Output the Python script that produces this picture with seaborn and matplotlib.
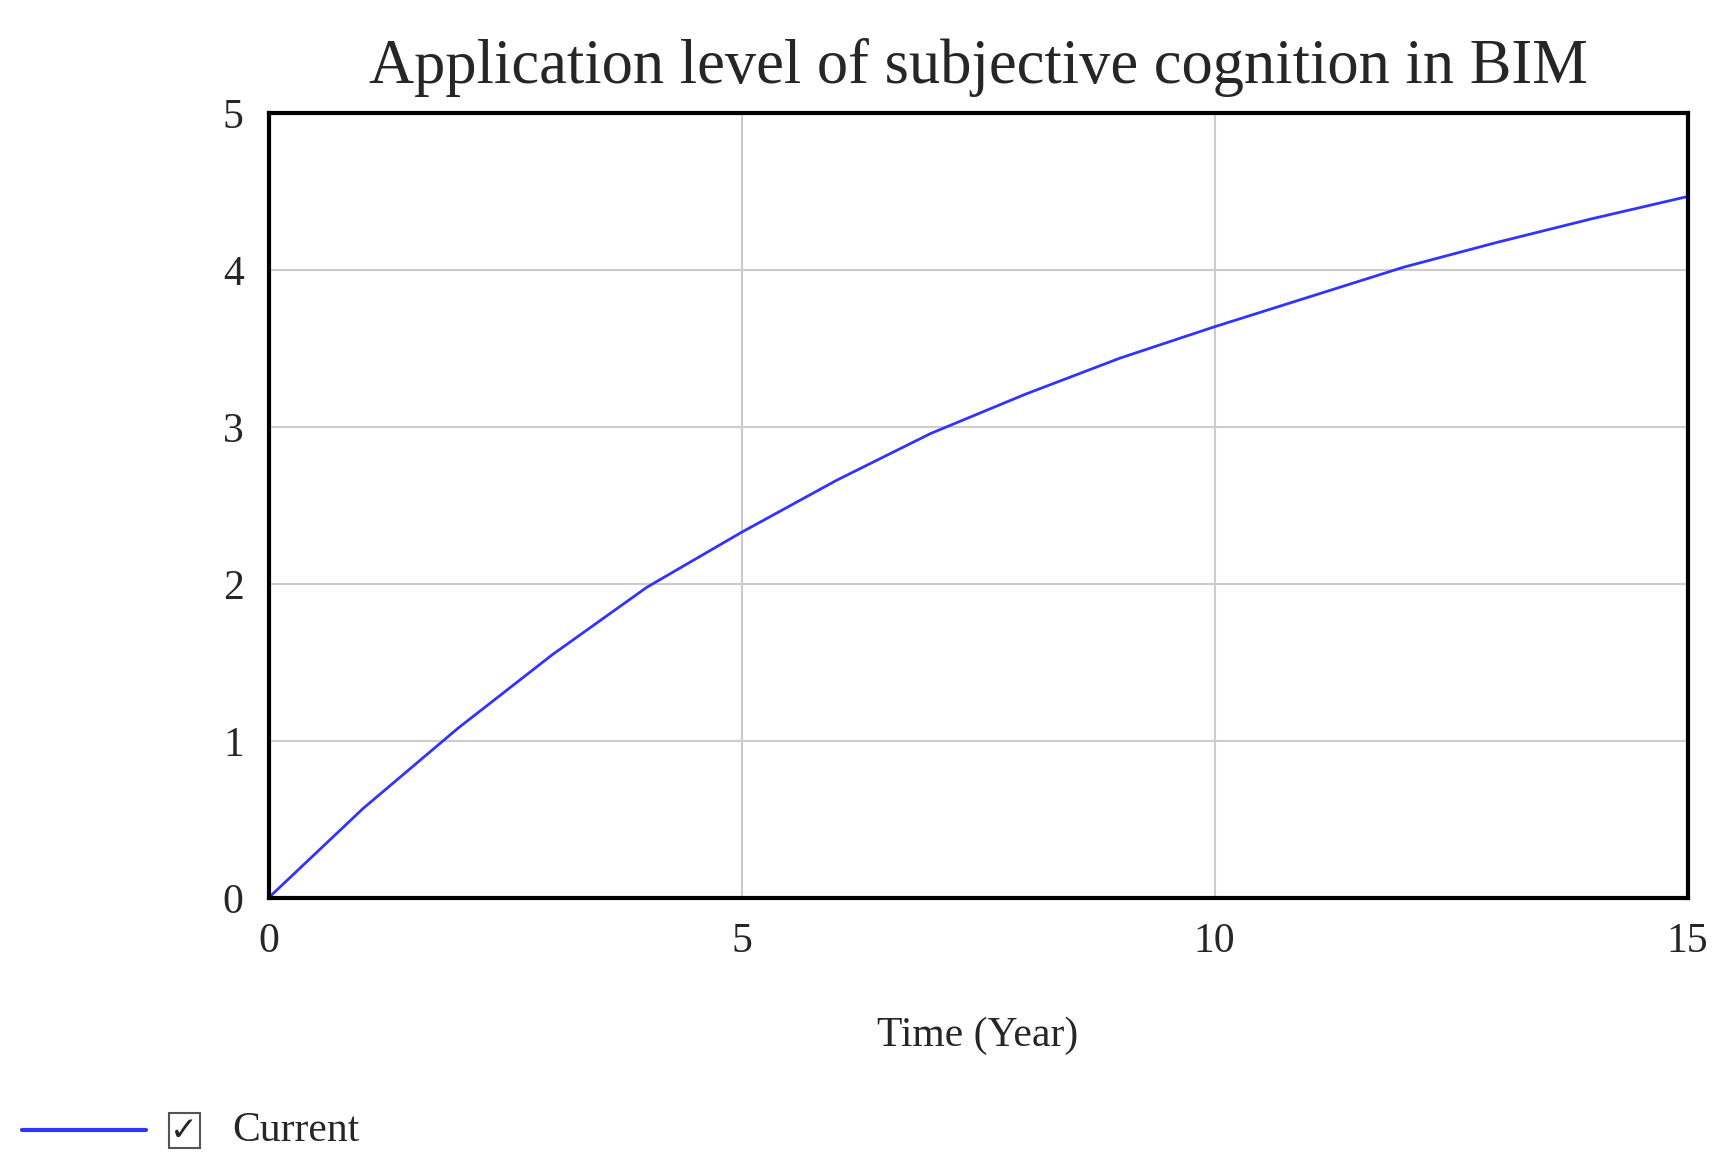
import numpy as np
import pandas as pd
import seaborn as sns
import matplotlib.pyplot as plt
from matplotlib.lines import Line2D
from matplotlib.patches import Rectangle

sns.set_theme(style="white")
plt.rcParams['font.family'] = ['Liberation Serif', 'DejaVu Serif']

# data
years = list(range(16))
level = [0, 0.57, 1.08, 1.55, 1.98, 2.33, 2.66, 2.96, 3.21, 3.44, 3.64, 3.83, 4.02, 4.18, 4.33, 4.47]
series_name = "Current"

df = pd.DataFrame({'Time': years, 'Level': level})

fig = plt.figure(figsize=(17.22, 11.69), dpi=100)
ax = fig.add_axes([0.156, 0.232, 0.824, 0.671])
sns.lineplot(data=df, x='Time', y='Level', ax=ax, color='#3333ff', linewidth=2)

ax.set_xlim(0, 15)
ax.set_ylim(0, 5)
ax.set_xticks([0, 5, 10, 15])
ax.set_yticks([0, 1, 2, 3, 4, 5])
ax.grid(True, color='#cccccc', linewidth=1.5)
for s in ax.spines.values():
    s.set_linewidth(3)
    s.set_color('black')
ax.tick_params(labelsize=30, length=0, pad=18)
ax.set_xlabel('Time (Year)', fontsize=30, labelpad=40)
ax.set_ylabel('')
ax.set_title('Application level of subjective cognition in BIM', fontsize=45, pad=22)

# legend-like footer
fig.add_artist(Line2D([0.013, 0.085], [0.033, 0.033], color='#3333ff', linewidth=3))
fig.add_artist(Rectangle((0.098, 0.018), 0.018, 0.03, fill=False, edgecolor='#555555', linewidth=1.5))
fig.text(0.107, 0.033, '\u2713', fontsize=24, ha='center', va='center', family=['DejaVu Sans'])
fig.text(0.135, 0.033, series_name, fontsize=30, ha='left', va='center')

plt.savefig('out.png', dpi=100)
